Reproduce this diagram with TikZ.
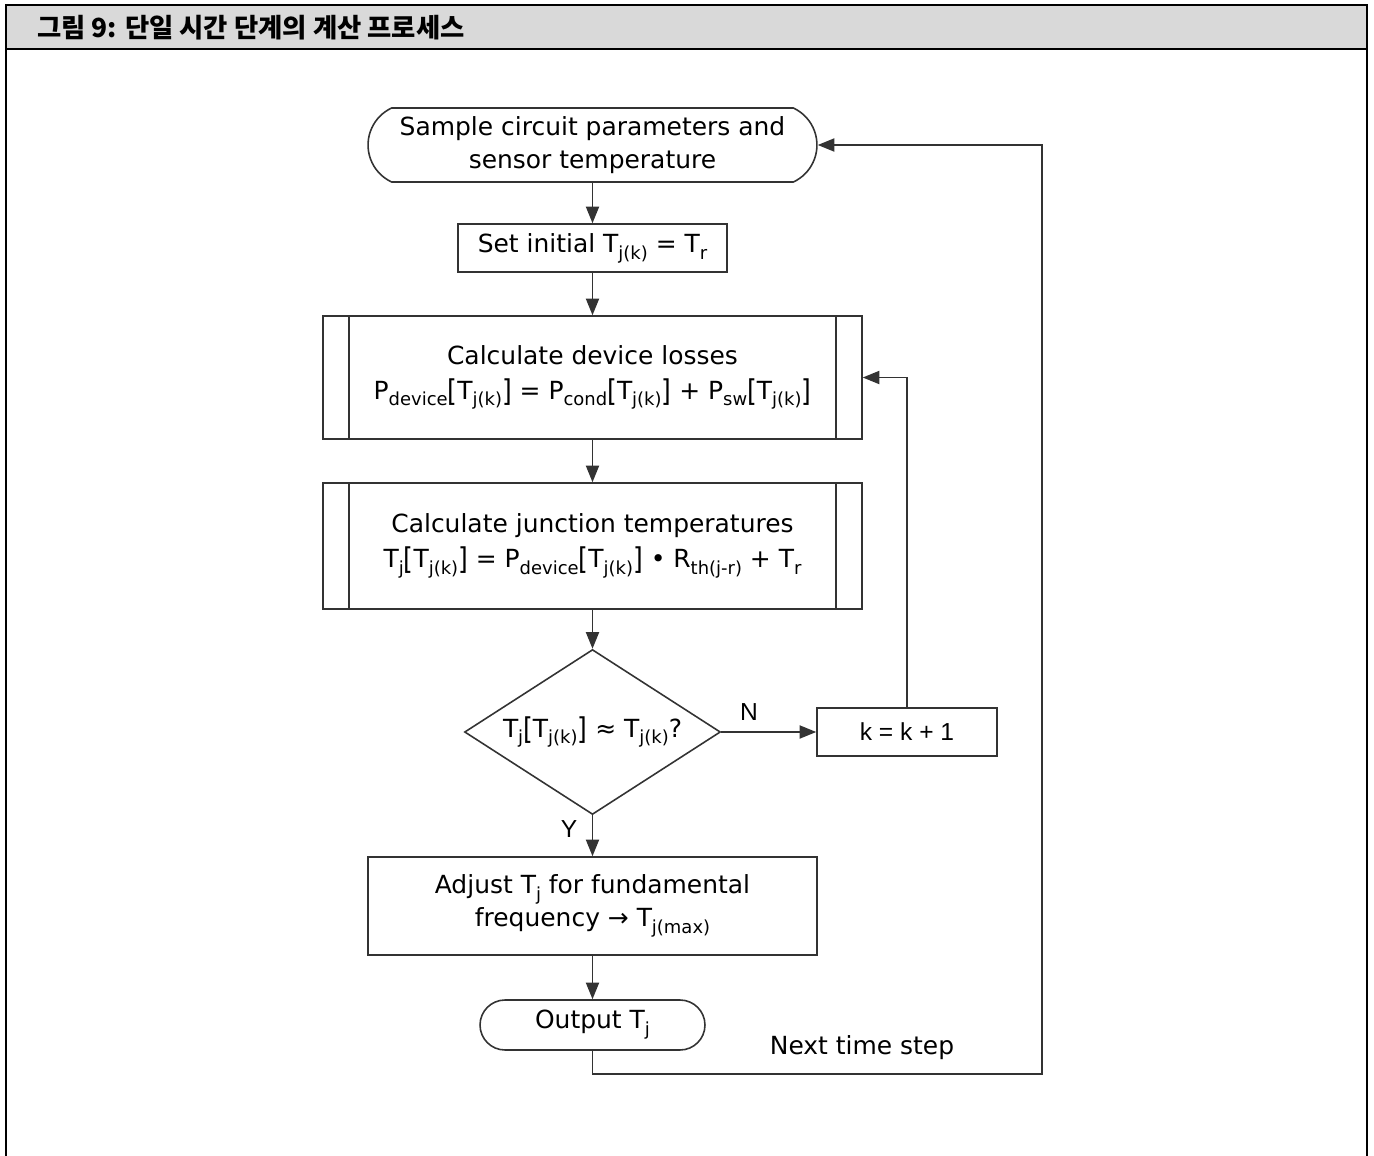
\documentclass[tikz,border=0pt]{standalone}
\usepackage{fontspec}
\setmainfont{DejaVu Sans}
\newfontfamily\arialf{Liberation Sans}
\newfontfamily\krf{Noto Sans CJK KR}
\usetikzlibrary{shapes.geometric,shapes.misc,arrows.meta}
\newcommand\sbs[1]{\raisebox{-0.5ex}{\scalebox{0.72}{#1}}}
\newcommand\lbr{\raisebox{-0.15ex}{\scalebox{1}[1.2]{[}}}
\newcommand\rbr{\raisebox{-0.15ex}{\scalebox{1}[1.2]{]}}}
\newcommand\Tjk{T\sbs{j(k)}}
\begin{document}
\begin{tikzpicture}[x=0.02cm,y=-0.02cm,
  line/.style={draw=black!80, line width=0.9pt},
  arr/.style={line, -{Triangle[length=9.5pt,width=7.5pt]}},
  txt/.style={font=\fontsize{14.2}{18.7}\selectfont, align=center, text=black},
  boxn/.style={line, rectangle, inner sep=0pt, txt},
  term/.style={line, rounded rectangle, inner sep=0pt, txt},
  lbl/.style={font=\arialf\fontsize{14}{16}\selectfont, text=black, inner sep=0pt}
]
\useasboundingbox (0,0) rectangle (1374,1156);
% frame
\fill[gray!30] (6,5) rectangle (1367,49);
\draw[line width=1.6pt] (6,1156) -- (6,5) -- (1367,5) -- (1367,1156);
\draw[line width=1.2pt] (6,49) -- (1367,49);
\node[anchor=west, inner sep=0pt, font=\krf\bfseries\fontsize{15}{17}\selectfont] (title) at (37,28) {그림 9: 단일 시간 단계의 계산 프로세스};

% nodes
\node[term, rounded rectangle arc length=130, minimum width=8.98cm, minimum height=1.48cm] (term) at (592.5,145)
  {Sample circuit parameters and\\ sensor temperature};
\node[boxn, minimum width=5.38cm, minimum height=0.96cm] (init) at (592.5,248)
  {Set initial \Tjk{} = T\sbs{r}};
\node[boxn, minimum width=10.78cm, minimum height=2.46cm] (calc1) at (592.5,377.5)
  {Calculate device losses\\[1pt] P\sbs{device}\lbr\Tjk\rbr{} = P\sbs{cond}\lbr\Tjk\rbr{} + P\sbs{sw}\lbr\Tjk\rbr};
\node[boxn, minimum width=10.78cm, minimum height=2.52cm] (calc2) at (592.5,546)
  {Calculate junction temperatures\\[1pt] T\sbs{j}\lbr\Tjk\rbr{} = P\sbs{device}\lbr\Tjk\rbr{} • R\sbs{th(j-r)} + T\sbs{r}};
\node[line, diamond, aspect=1.552, inner sep=0pt, txt, minimum width=5.12cm, minimum height=3.3cm] (dec) at (592.5,732)
  {T\sbs{j}\lbr\Tjk\rbr{} ≈ \Tjk?};
\node[line, rectangle, inner sep=0pt, lbl, minimum width=3.6cm, minimum height=0.96cm] (kinc) at (907,732)
  {k = k + 1};
\node[boxn, minimum width=8.98cm, minimum height=1.96cm] (adj) at (592.5,906)
  {Adjust T\sbs{j} for fundamental\\ frequency → T\sbs{j(max)}};
\node[term, minimum width=4.5cm, minimum height=1.0cm] (outp) at (592.5,1025)
  {Output T\sbs{j}};

% predefined-process side bars
\foreach \n in {calc1,calc2}{
  \draw[line] ([xshift=0.54cm]\n.north west) -- ([xshift=0.54cm]\n.south west);
  \draw[line] ([xshift=-0.54cm]\n.north east) -- ([xshift=-0.54cm]\n.south east);
}

% labels
\node[lbl] (lblN) at (749,712) {N};
\node[lbl] (lblY) at (569,829) {Y};
\node[txt, inner sep=0pt] (lblnext) at (862,1048) {Next time step};

% connectors
\coordinate (ret) at (1042,1074);
\draw[arr] (term.south) -- (init.north);
\draw[arr] (init.south) -- (calc1.north);
\draw[arr] (calc1.south) -- (calc2.north);
\draw[arr] (calc2.south) -- (dec.north);
\draw[arr] (dec.east) -- (kinc.west);
\draw[arr] (kinc.north) |- (calc1.east);
\draw[arr] (dec.south) -- (adj.north);
\draw[arr] (adj.south) -- (outp.north);
\draw[arr] (outp.south) |- (ret) |- (term.east);
\end{tikzpicture}
\end{document}
